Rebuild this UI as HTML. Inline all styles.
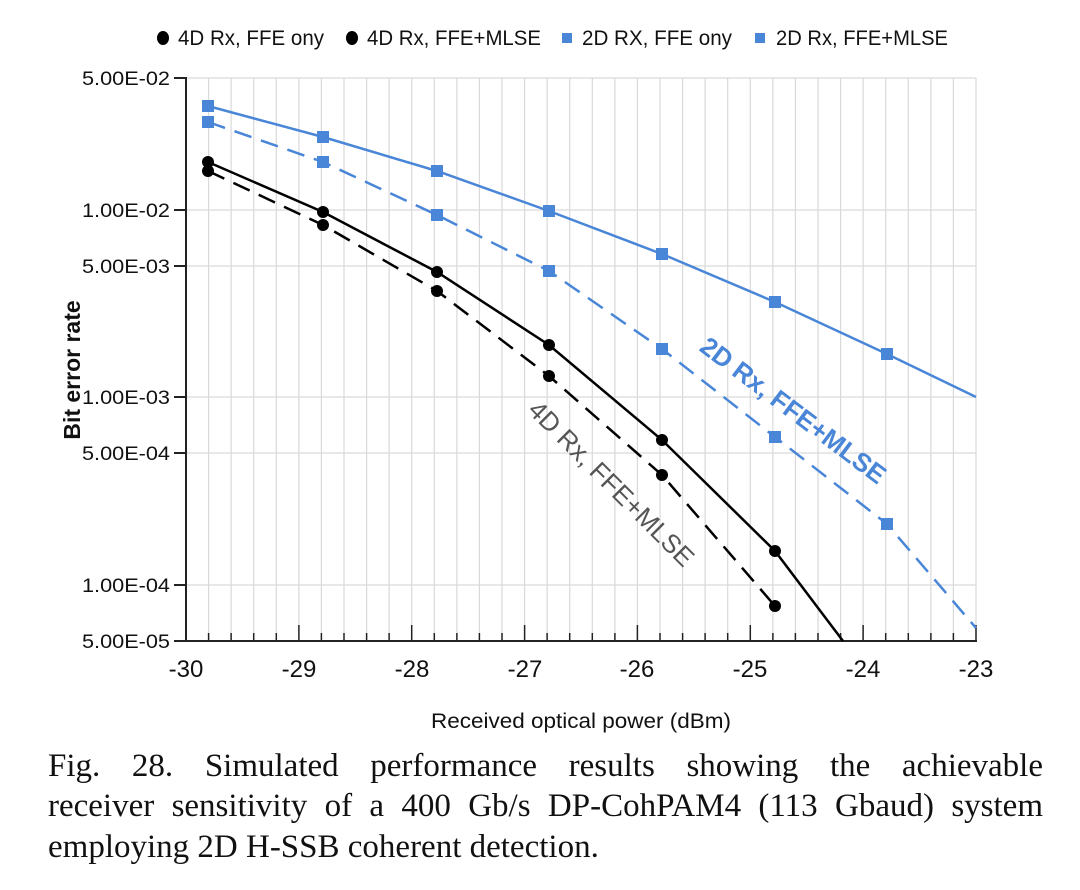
<!DOCTYPE html>
<html><head><meta charset="utf-8"><style>
html,body{margin:0;padding:0;background:#fff;}
svg{display:block;position:absolute;left:0;top:0;}
.cap{position:absolute;left:48px;width:995px;font-family:"Liberation Serif","Times New Roman",serif;font-size:33px;color:#111;white-space:nowrap;}
.j{text-align:justify;text-align-last:justify;}
</style></head><body>
<svg width="1080" height="890" xmlns="http://www.w3.org/2000/svg" font-family="Liberation Sans, Arial, sans-serif">
<rect width="1080" height="890" fill="#fff"/>
<g stroke="#d9d9d9" stroke-width="1.2">
<line x1="208.6" y1="78" x2="208.6" y2="641"/><line x1="231.1" y1="78" x2="231.1" y2="641"/><line x1="253.7" y1="78" x2="253.7" y2="641"/><line x1="276.3" y1="78" x2="276.3" y2="641"/><line x1="298.9" y1="78" x2="298.9" y2="641"/><line x1="321.4" y1="78" x2="321.4" y2="641"/><line x1="344" y1="78" x2="344" y2="641"/><line x1="366.6" y1="78" x2="366.6" y2="641"/><line x1="389.1" y1="78" x2="389.1" y2="641"/><line x1="411.7" y1="78" x2="411.7" y2="641"/><line x1="434.3" y1="78" x2="434.3" y2="641"/><line x1="456.9" y1="78" x2="456.9" y2="641"/><line x1="479.4" y1="78" x2="479.4" y2="641"/><line x1="502" y1="78" x2="502" y2="641"/><line x1="524.6" y1="78" x2="524.6" y2="641"/><line x1="547.1" y1="78" x2="547.1" y2="641"/><line x1="569.7" y1="78" x2="569.7" y2="641"/><line x1="592.3" y1="78" x2="592.3" y2="641"/><line x1="614.9" y1="78" x2="614.9" y2="641"/><line x1="637.4" y1="78" x2="637.4" y2="641"/><line x1="660" y1="78" x2="660" y2="641"/><line x1="682.6" y1="78" x2="682.6" y2="641"/><line x1="705.1" y1="78" x2="705.1" y2="641"/><line x1="727.7" y1="78" x2="727.7" y2="641"/><line x1="750.3" y1="78" x2="750.3" y2="641"/><line x1="772.9" y1="78" x2="772.9" y2="641"/><line x1="795.4" y1="78" x2="795.4" y2="641"/><line x1="818" y1="78" x2="818" y2="641"/><line x1="840.6" y1="78" x2="840.6" y2="641"/><line x1="863.1" y1="78" x2="863.1" y2="641"/><line x1="885.7" y1="78" x2="885.7" y2="641"/><line x1="908.3" y1="78" x2="908.3" y2="641"/><line x1="930.9" y1="78" x2="930.9" y2="641"/><line x1="953.4" y1="78" x2="953.4" y2="641"/><line x1="976" y1="78" x2="976" y2="641"/>
<line x1="186" y1="78" x2="976" y2="78"/><line x1="186" y1="210" x2="976" y2="210"/><line x1="186" y1="266" x2="976" y2="266"/><line x1="186" y1="397" x2="976" y2="397"/><line x1="186" y1="453" x2="976" y2="453"/><line x1="186" y1="585" x2="976" y2="585"/>
</g>
<g stroke="#222" stroke-width="2">
<line x1="186" y1="77" x2="186" y2="642"/><line x1="185" y1="641" x2="977" y2="641"/>
<line x1="174" y1="78" x2="186" y2="78"/><line x1="174" y1="210" x2="186" y2="210"/><line x1="174" y1="266" x2="186" y2="266"/><line x1="174" y1="397" x2="186" y2="397"/><line x1="174" y1="453" x2="186" y2="453"/><line x1="174" y1="585" x2="186" y2="585"/><line x1="174" y1="641" x2="186" y2="641"/>
</g>
<g stroke="#222" stroke-width="1.5">
<path d="M208.6 641v-8M231.1 641v-8M253.7 641v-8M276.3 641v-8M321.4 641v-8M344 641v-8M366.6 641v-8M389.1 641v-8M434.3 641v-8M456.9 641v-8M479.4 641v-8M502 641v-8M547.1 641v-8M569.7 641v-8M592.3 641v-8M614.9 641v-8M660 641v-8M682.6 641v-8M705.1 641v-8M727.7 641v-8M772.9 641v-8M795.4 641v-8M818 641v-8M840.6 641v-8M885.7 641v-8M908.3 641v-8M930.9 641v-8M953.4 641v-8"/>
<path d="M298.9 641v-16M411.7 641v-16M524.6 641v-16M637.4 641v-16M750.3 641v-16M863.1 641v-16M976 641v-16"/>
</g>
<g font-size="19" text-anchor="end" fill="#111">
<text x="170" y="85" textLength="88" lengthAdjust="spacingAndGlyphs">5.00E-02</text>
<text x="170" y="217" textLength="88" lengthAdjust="spacingAndGlyphs">1.00E-02</text>
<text x="170" y="273" textLength="88" lengthAdjust="spacingAndGlyphs">5.00E-03</text>
<text x="170" y="404" textLength="88" lengthAdjust="spacingAndGlyphs">1.00E-03</text>
<text x="170" y="460" textLength="88" lengthAdjust="spacingAndGlyphs">5.00E-04</text>
<text x="170" y="592" textLength="88" lengthAdjust="spacingAndGlyphs">1.00E-04</text>
<text x="170" y="648" textLength="88" lengthAdjust="spacingAndGlyphs">5.00E-05</text>
</g>
<g font-size="24" text-anchor="middle" fill="#111">
<text x="186" y="677">-30</text><text x="299" y="677">-29</text><text x="412" y="677">-28</text><text x="525" y="677">-27</text><text x="637" y="677">-26</text><text x="750" y="677">-25</text><text x="863" y="677">-24</text><text x="976" y="677">-23</text>
</g>
<text x="581" y="728" font-size="21" text-anchor="middle" fill="#111" textLength="300" lengthAdjust="spacingAndGlyphs">Received optical power (dBm)</text>
<text transform="translate(80,370) rotate(-90)" font-size="23" font-weight="bold" text-anchor="middle" fill="#111">Bit error rate</text>
<g fill="none" stroke-width="2.5">
<polyline stroke="#4a86d8" points="208,106 323,137 437,171 549,211 662,254 775,302 887,354 976,397"/>
<polyline stroke="#4a86d8" stroke-dasharray="18,10" points="208,122 323,162 437,215 549,271 662,349 775,437 887,524 976,628"/>
<polyline stroke="#000" points="208,162 323,212 437,272 549,345 662,440 775,551 843,641"/>
<polyline stroke="#000" stroke-dasharray="18,10" points="208,171 323,225 437,291 549,376 662,475 775,606"/>
</g>
<g fill="#4a86d8">
<rect x="202" y="100" width="12" height="12"/><rect x="317" y="131" width="12" height="12"/><rect x="431" y="165" width="12" height="12"/><rect x="543" y="205" width="12" height="12"/><rect x="656" y="248" width="12" height="12"/><rect x="769" y="296" width="12" height="12"/><rect x="881" y="348" width="12" height="12"/>
<rect x="202" y="116" width="12" height="12"/><rect x="317" y="156" width="12" height="12"/><rect x="431" y="209" width="12" height="12"/><rect x="543" y="265" width="12" height="12"/><rect x="656" y="343" width="12" height="12"/><rect x="769" y="431" width="12" height="12"/><rect x="881" y="518" width="12" height="12"/>
</g>
<g fill="#000">
<circle cx="208" cy="162" r="6"/><circle cx="323" cy="212" r="6"/><circle cx="437" cy="272" r="6"/><circle cx="549" cy="345" r="6"/><circle cx="662" cy="440" r="6"/><circle cx="775" cy="551" r="6"/>
<circle cx="208" cy="171" r="6"/><circle cx="323" cy="225" r="6"/><circle cx="437" cy="291" r="6"/><circle cx="549" cy="376" r="6"/><circle cx="662" cy="475" r="6"/><circle cx="775" cy="606" r="6"/>
</g>
<text transform="translate(792,412) rotate(37)" font-size="26" font-weight="bold" fill="#4a86d8" text-anchor="middle" dominant-baseline="middle">2D Rx, FFE+MLSE</text>
<text transform="translate(610,485) rotate(45)" font-size="26" fill="#555" text-anchor="middle" dominant-baseline="middle">4D Rx, FFE+MLSE</text>
<g font-size="21" fill="#111">
<ellipse cx="163" cy="38" rx="6" ry="7" fill="#000"/>
<text x="178" y="45" textLength="146" lengthAdjust="spacingAndGlyphs">4D Rx, FFE ony</text>
<ellipse cx="352" cy="38" rx="6" ry="7" fill="#000"/>
<text x="367" y="45" textLength="174" lengthAdjust="spacingAndGlyphs">4D Rx, FFE+MLSE</text>
<rect x="562" y="33" width="10" height="10" fill="#4a86d8"/>
<text x="582" y="45" textLength="150" lengthAdjust="spacingAndGlyphs">2D RX, FFE ony</text>
<rect x="755" y="33" width="10" height="10" fill="#4a86d8"/>
<text x="776" y="45" textLength="172" lengthAdjust="spacingAndGlyphs">2D Rx, FFE+MLSE</text>
</g>
</svg>
<div class="cap j" style="top:748px;">Fig. 28. Simulated performance results showing the achievable</div>
<div class="cap j" style="top:788px;">receiver sensitivity of a 400 Gb/s DP-CohPAM4 (113 Gbaud) system</div>
<div class="cap" style="top:829px;">employing 2D H-SSB coherent detection.</div>
</body></html>
